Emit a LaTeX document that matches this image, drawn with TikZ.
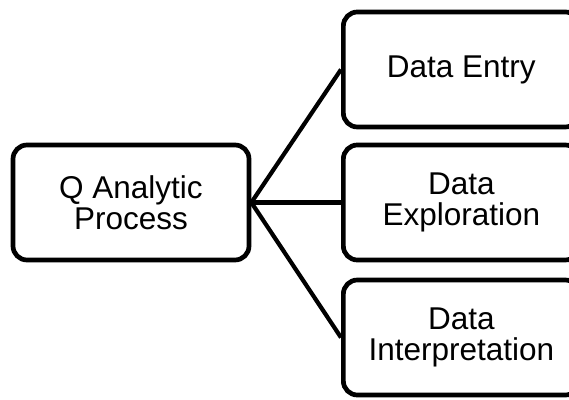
\documentclass[tikz,border=0pt]{standalone}
\usepackage{fontspec}
\setmainfont{Liberation Sans}
\begin{document}
\begin{tikzpicture}[x=1pt,y=1pt,
  box/.style={draw=black, line width=4.7pt, rounded corners=14pt, fill=white,
    minimum width=236pt, minimum height=115pt, inner sep=0pt, align=center,
    font=\fontsize{31.5}{31}\selectfont},
  link/.style={draw=black, line width=4.2pt}]
\useasboundingbox (0,0) rectangle (569,399);
\clip (0,0) rectangle (569,399);
\fill[white] (0,0) rectangle (569,399);
\node[box] (q) at (131,{399-202.5}) {Q Analytic\\Process};
\node[box, anchor=west] (e) at (341,{399-69.5}) {Data Entry};
\node[box, anchor=west] (x) at (341,{399-202.5}) {Data\\Exploration};
\node[box, anchor=west] (i) at (341,{399-337.5}) {Data\\Interpretation};
\coordinate (s) at (q.east);
\draw[link] (s) -- (e.west);
\draw[link] (s) -- (x.west);
\draw[link] (s) -- (i.west);
\end{tikzpicture}
\end{document}
